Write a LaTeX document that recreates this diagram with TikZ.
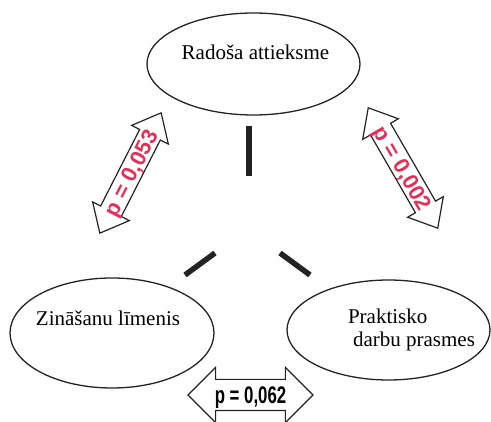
\documentclass[tikz,border=0pt]{standalone}
\usepackage{fontspec}
\setmainfont{Liberation Serif}
\newfontfamily\pfont{Liberation Sans}
\usetikzlibrary{shapes.geometric,shapes.arrows}
\definecolor{pred}{RGB}{228,48,88}
\definecolor{ink}{RGB}{35,35,35}
\newcommand{\lblfont}{\fontsize{21}{23}\selectfont}
\tikzset{
  oval/.style={draw=ink, line width=1.3pt, ellipse, inner sep=0pt},
  lbl/.style={font=\lblfont, inner sep=0pt},
  parrow/.style={draw=ink, line width=1.2pt, double arrow, inner sep=0pt},
  slant/.style={parrow, double arrow head extend=9pt, double arrow tip angle=80,
    text height=18.9pt, text depth=3.1pt, text=pred, font=\pfont\bfseries\fontsize{22}{22}\selectfont},
  flat/.style={parrow, double arrow head extend=12pt, double arrow tip angle=90,
    text height=23.6pt, text depth=6.4pt, font=\pfont\bfseries\fontsize{24}{24}\selectfont},
  bar/.style={ink, line width=5.5pt}
}
\begin{document}
\begin{tikzpicture}[x=1pt,y=-1pt]
\useasboundingbox (0,0) rectangle (491,422);
\path node[oval, minimum width=213pt, minimum height=102pt,
  label={[lbl, yshift=12pt, xshift=2pt]center:Radoša attieksme}] (R) at (253.5,64) {}
node[oval, minimum width=204pt, minimum height=110pt,
  label={[lbl, yshift=15pt, xshift=-4pt]center:Zināšanu līmenis}] (Z) at (112,333) {}
node[oval, minimum width=203pt, minimum height=100pt,
  label={[lbl, align=left, xshift=23pt]center:Praktisko\\\hspace*{5pt}darbu prasmes}] (P) at (388.5,330) {}
node[slant, rotate=63, minimum height=135pt] (RZ) at (130.5,173) {\makebox[0pt]{p = 0,053}}
node[slant, rotate=-60, minimum height=139pt] (RP) at (403,168) {\makebox[0pt]{p = 0,002}}
node[flat, minimum height=125pt] (ZP) at (250.5,395) {\makebox[0pt]{\scalebox{0.7}[1]{p = 0,062}}}
;
\coordinate (v1) at (249,126);
\coordinate (v2) at (249,176);
\coordinate (l1) at (185,275);
\coordinate (l2) at (215,253);
\coordinate (r1) at (280,253);
\coordinate (r2) at (310,275);
\draw[bar] (v1) -- (v2);
\draw[bar] (l1) -- (l2);
\draw[bar] (r1) -- (r2);
\end{tikzpicture}
\end{document}
